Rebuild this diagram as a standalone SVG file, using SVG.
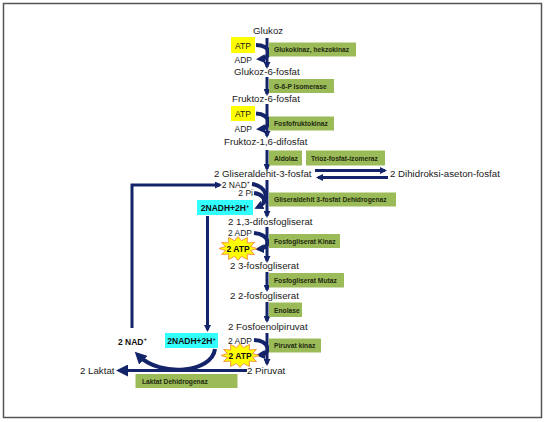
<svg xmlns="http://www.w3.org/2000/svg" width="545" height="422" viewBox="0 0 545 422">
<style>
.m{font-family:"Liberation Sans",Arial,sans-serif;font-size:9.7px;fill:#1a1a1a}
.s{font-family:"Liberation Sans",Arial,sans-serif;font-size:8.5px;fill:#1a1a1a}
.e{font-family:"Liberation Sans",Arial,sans-serif;font-size:6.7px;font-weight:bold;fill:#1f2a10}
.b{font-family:"Liberation Sans",Arial,sans-serif;font-size:8.5px;font-weight:bold;fill:#111}
.g{fill:#9bbb59}
.y{fill:#ffff00}
.c{fill:#33ffff}
.ln{fill:none;stroke:#14246b;stroke-width:3}
.cv{fill:none;stroke:#14246b;stroke-width:4}
.burst{fill:#ffff00;stroke:#f79646;stroke-width:1}
</style>
<defs>
<marker id="ahs" markerUnits="userSpaceOnUse" markerWidth="7" markerHeight="7" refX="5" refY="3.5" orient="auto"><path d="M0,0 L7,3.5 L0,7 z" fill="#14246b"/></marker>
<marker id="ah" markerUnits="userSpaceOnUse" markerWidth="9" markerHeight="9" refX="5" refY="4.5" orient="auto"><path d="M0,0 L9,4.5 L0,9 z" fill="#14246b"/></marker>
<marker id="ahb" markerUnits="userSpaceOnUse" markerWidth="12" markerHeight="12" refX="6" refY="6" orient="auto"><path d="M0,0 L12,6 L0,12 z" fill="#14246b"/></marker>
<polygon id="burst" class="burst" points="19,0 12.6,2 16.5,6 9.2,5.6 9.5,11 3.4,7.8 0,12 -3.4,7.8 -9.5,11 -9.2,5.6 -16.5,6 -12.6,2 -19,0 -12.6,-2 -16.5,-6 -9.2,-5.6 -9.5,-11 -3.4,-7.8 0,-12 3.4,-7.8 9.5,-11 9.2,-5.6 16.5,-6 12.6,-2"/>
</defs>
<rect x="0" y="0" width="545" height="422" fill="#ffffff"/>
<rect x="3.5" y="3.5" width="538" height="414" fill="none" stroke="#555555" stroke-width="1.5"/>

<g id="connectors">
<path class="ln" d="M267 38 V67" marker-end="url(#ahs)"/>
<path class="ln" d="M267 77 V94" marker-end="url(#ahs)"/>
<path class="ln" d="M267 104 V136" marker-end="url(#ahs)"/>
<path class="ln" d="M267 150 V169" marker-end="url(#ahs)"/>
<path class="ln" d="M267 180 V216" marker-end="url(#ahs)"/>
<path class="ln" d="M267 227 V261" marker-end="url(#ahs)"/>
<path class="ln" d="M267 272 V290" marker-end="url(#ahs)"/>
<path class="ln" d="M267 302 V321" marker-end="url(#ahs)"/>
<path class="ln" d="M267 333 V364" marker-end="url(#ahs)"/>
<path class="cv" d="M256 45 C271 45 273 58 260 59" marker-end="url(#ah)"/>
<path class="cv" d="M256 113.5 C271 114 273 128 260 129" marker-end="url(#ah)"/>
<path class="cv" d="M252 184 C267 186 271 201 258 207" marker-end="url(#ah)"/>
<path class="cv" d="M254 193 C262 194 266 199 263 203"/>
<path class="cv" d="M254 233 C270 234 272 248 259 249" marker-end="url(#ah)"/>
<path class="cv" d="M254 340 C270 341 272 354 260 355" marker-end="url(#ah)"/>
<path class="ln" stroke-width="2.5" d="M315 170.5 H385" marker-end="url(#ahs)"/>
<path class="ln" stroke-width="2.5" d="M388 177.5 H318" marker-end="url(#ahs)"/>
<path class="ln" stroke-width="2.5" d="M132 328 V185 H220" marker-end="url(#ahs)"/>
<path class="ln" stroke-width="2.5" d="M207.5 216 V330" marker-end="url(#ahs)"/>
<path class="ln" stroke-width="4" d="M247 370.5 H122" marker-end="url(#ahb)"/>
<path class="cv" stroke-width="5" d="M215 349 C212 373 160 377 139 356" marker-end="url(#ahb)"/>
</g>

<g id="glukoz"><text class="m" x="253" y="34">Glukoz</text></g>
<g id="atp1"><rect class="y" x="231" y="37" width="24" height="16"/><text class="s" x="243" y="48.5" text-anchor="middle">ATP</text></g>
<g id="adp1"><text class="s" x="252" y="63" text-anchor="end">ADP</text></g>
<g id="enz1"><rect class="g" x="269" y="42.5" width="87" height="14"/><text class="e" x="274" y="52.3">Glukokinaz, hekzokinaz</text></g>
<g id="g6p"><text class="m" x="234" y="75">Glukoz-6-fosfat</text></g>
<g id="enz2"><rect class="g" x="269" y="79" width="65" height="14"/><text class="e" x="274" y="88.8">G-6-P Isomerase</text></g>
<g id="f6p"><text class="m" x="232" y="102">Fruktoz-6-fosfat</text></g>
<g id="atp2"><rect class="y" x="231" y="106" width="24" height="15"/><text class="s" x="243" y="117" text-anchor="middle">ATP</text></g>
<g id="adp2"><text class="s" x="252" y="132" text-anchor="end">ADP</text></g>
<g id="enz3"><rect class="g" x="269" y="116.5" width="65" height="14"/><text class="e" x="274" y="126.3">Fosfofruktokinaz</text></g>
<g id="f16dp"><text class="m" x="224" y="145">Fruktoz-1,6-difosfat</text></g>
<g id="enz4"><rect class="g" x="269" y="150.5" width="33" height="15"/><text class="e" x="274" y="160.8">Aldolaz</text></g>
<g id="enz5"><rect class="g" x="306" y="150.5" width="79" height="15"/><text class="e" x="311" y="160.8">Trioz-fosfat-izomeraz</text></g>
<g id="g3p"><text class="m" x="214" y="177">2 Gliseraldehit-3-fosfat</text></g>
<g id="dhap"><text class="m" x="390" y="177">2 Dihidroksi-aseton-fosfat</text></g>
<g id="nad1"><text class="s" x="250" y="187.5" text-anchor="end">2 NAD<tspan font-size="5.5" dy="-3.5">+</tspan></text></g>
<g id="pi"><text class="s" x="253" y="196" text-anchor="end">2 Pi</text></g>
<g id="nadh1"><rect class="c" x="197" y="200" width="56" height="15"/><text class="b" x="225" y="211" text-anchor="middle">2NADH+2H<tspan font-size="5.5" dy="-3.5">+</tspan></text></g>
<g id="enz6"><rect class="g" x="269" y="192.5" width="127" height="14"/><text class="e" x="274" y="202.3">Gliseraldehit 3-fosfat Dehidrogenaz</text></g>
<g id="bpg"><text class="m" x="228" y="225">2 1,3-difosfogliserat</text></g>
<g id="adp3"><text class="s" x="252" y="236" text-anchor="end">2 ADP</text></g>
<g id="atp3"><use href="#burst" x="238" y="248.5"/><text class="b" x="238" y="252" text-anchor="middle">2 ATP</text></g>
<g id="enz7"><rect class="g" x="269" y="234" width="71" height="14"/><text class="e" x="274" y="243.8">Fosfogliserat Kinaz</text></g>
<g id="pg3"><text class="m" x="230" y="268.5">2</text><text class="m" x="238" y="268.5">3-fosfogliserat</text></g>
<g id="enz8"><rect class="g" x="269" y="273" width="75" height="14.5"/><text class="e" x="274" y="283">Fosfogliserat Mutaz</text></g>
<g id="pg2"><text class="m" x="230" y="298.5">2</text><text class="m" x="238" y="298.5">2-fosfogliserat</text></g>
<g id="enz9"><rect class="g" x="269" y="302.5" width="33" height="14.5"/><text class="e" x="274" y="312.5">Enolase</text></g>
<g id="pep"><text class="m" x="228" y="330">2 Fosfoenolpiruvat</text></g>
<g id="adp4"><text class="s" x="252" y="343.5" text-anchor="end">2 ADP</text></g>
<g id="atp4"><use href="#burst" x="240" y="355.5"/><text class="b" x="240" y="359" text-anchor="middle">2 ATP</text></g>
<g id="enz10"><rect class="g" x="269" y="338.5" width="52" height="14"/><text class="e" x="274" y="348.3">Piruvat kinaz</text></g>
<g id="piruvat"><text class="m" x="247" y="373.5">2 Piruvat</text></g>
<g id="laktat"><text class="m" x="80" y="374">2 Laktat</text></g>
<g id="enz11"><rect class="g" x="135.5" y="374" width="102" height="14"/><text class="e" x="142" y="383.8">Laktat Dehidrogenaz</text></g>
<g id="nadh2"><rect class="c" x="165" y="333" width="53" height="15"/><text class="b" x="191.5" y="344" text-anchor="middle">2NADH+2H<tspan font-size="5.5" dy="-3.5">+</tspan></text></g>
<g id="nad2"><text class="b" x="118" y="344.5">2 NAD<tspan font-size="6" dy="-3.5">+</tspan></text></g>
</svg>
